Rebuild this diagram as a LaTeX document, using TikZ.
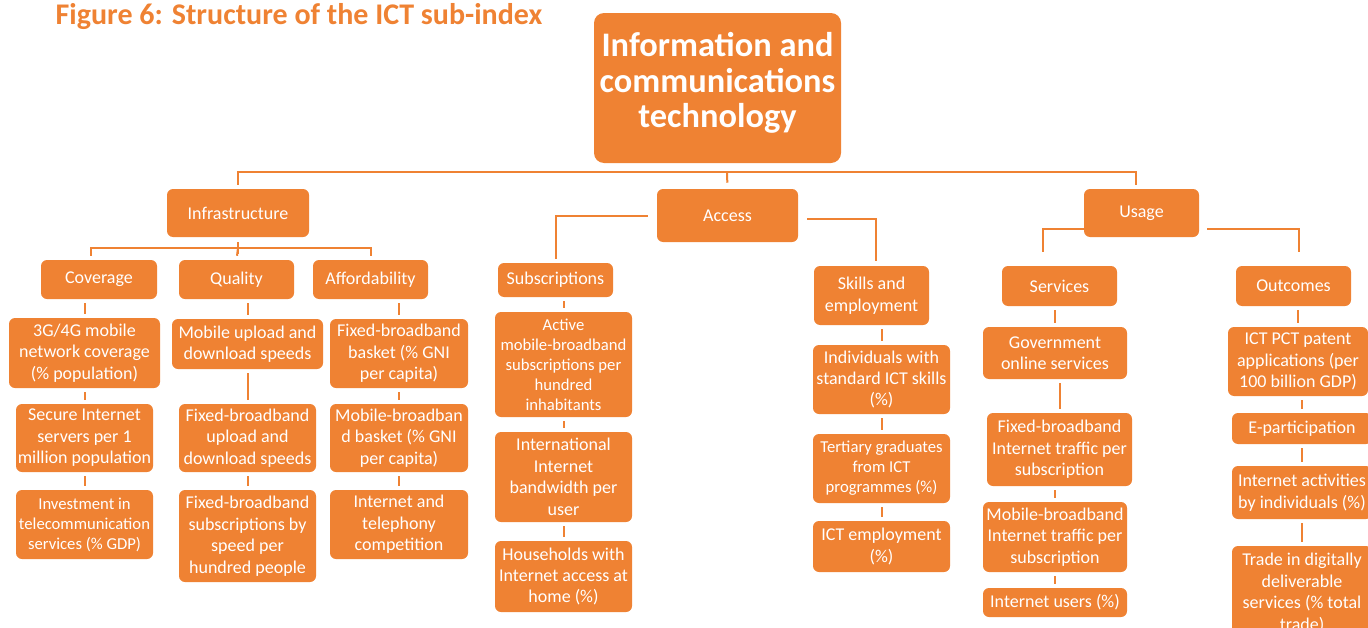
\documentclass[tikz,border=0pt]{standalone}
\usepackage{fontspec}
\setmainfont{Carlito}
\definecolor{ictorange}{HTML}{EF8233}
\newlength{\px}\setlength{\px}{0.75pt}

\begin{document}
\begin{tikzpicture}[x=0.75pt, y=-0.75pt,
    box/.style={fill=ictorange, text=white, rounded corners=4.5pt, align=center,
        inner sep=1pt, font=\fontsize{13.5}{16.1}\selectfont},
    small/.style={font=\fontsize{12.5}{15}\selectfont},
    wh/.style 2 args={minimum width=#1\px, minimum height=#2\px},
    link/.style={draw=ictorange, line width=1.5pt},
    tick/.style={link, shorten <=4\px, shorten >=4\px}]
    \useasboundingbox (0,0) rectangle (1368,628);

    % Title and root
    \node[anchor=base west, text=ictorange, font=\fontsize{22.5}{27}\bfseries\selectfont]
        (title) at (51,25) {Figure 6: Structure of the ICT sub-index};
    \node[box, wh={247}{150}, rounded corners=7.5pt, text depth=16\px,
        font=\fontsize{25.8}{26.6}\bfseries\selectfont]
        (ict) at (717.5,88) {Information and\\communications\\technology};

    % Pillars
    \node[box, wh={142}{48}] (infra) at (238,213)   {Infrastructure};
    \node[box, wh={141}{53}] (acc)   at (727.5,215.5) {Access};
    \node[box, wh={115}{48}] (use)   at (1141.5,213) {Usage};

    % Sub-pillars
    \node[box, wh={116}{39}] (cov)  at (99,279.5)    {Coverage};
    \node[box, wh={115}{39}] (qual) at (236.5,279.5) {Quality};
    \node[box, wh={115}{39}] (aff)  at (370.5,279.5) {Affordability};
    \node[box, wh={115}{34}] (sub)  at (555.5,280)   {Subscriptions};
    \node[box, wh={115}{59}] (skl)  at (871.5,295.5) {Skills and\\employment};
    \node[box, wh={115}{40}] (svc)  at (1059.5,286)  {Services};
    \node[box, wh={115}{40}] (out)  at (1293.5,286)  {Outcomes};

    % Infrastructure indicators
    \node[box, wh={151}{70}] (c1) at (84.5,353) {3G/4G mobile\\network coverage\\(\% population)};
    \node[box, wh={137}{68}] (c2) at (84.5,438) {Secure Internet\\servers per 1\\million population};
    \node[box, small, wh={137}{69}] (c3) at (84.5,524.5) {Investment in\\telecommunication\\services (\% GDP)};
    \node[box, wh={151}{50}] (q1) at (247.5,344) {Mobile upload and\\download speeds};
    \node[box, wh={137}{68}] (q2) at (247.5,438) {Fixed-broadband\\upload and\\download speeds};
    \node[box, wh={137}{92}] (q3) at (247.5,536) {Fixed-broadband\\subscriptions by\\speed per\\hundred people};
    \node[box, wh={138}{69}] (a1) at (399,353.5) {Fixed-broadband\\basket (\% GNI\\per capita)};
    \node[box, wh={138}{68}] (a2) at (399,438) {Mobile-broadban\\d basket (\% GNI\\per capita)};
    \node[box, wh={138}{69}] (a3) at (399,524.5) {Internet and\\telephony\\competition};

    % Access indicators
    \node[box, small, wh={137}{105}] (s1) at (563.5,364.5) {Active\\mobile-broadband\\subscriptions per\\hundred\\inhabitants};
    \node[box, wh={137}{90}] (s2) at (563.5,477) {International\\Internet\\bandwidth per\\user};
    \node[box, wh={137}{71}] (s3) at (563.5,576.5) {Households with\\Internet access at\\home (\%)};
    \node[box, wh={137}{69}] (k1) at (881.5,379.5) {Individuals with\\standard ICT skills\\(\%)};
    \node[box, small, wh={137}{69}] (k2) at (881.5,468.5) {Tertiary graduates\\from ICT\\programmes (\%)};
    \node[box, wh={137}{51}] (k3) at (881.5,546.5) {ICT employment\\(\%)};

    % Usage indicators
    \node[box, wh={144}{52}] (v1) at (1055,353)    {Government\\online services};
    \node[box, wh={145}{73}] (v2) at (1059.5,449.5) {Fixed-broadband\\Internet traffic per\\subscription};
    \node[box, wh={144}{70}] (v3) at (1055,537)    {Mobile-broadband\\Internet traffic per\\subscription};
    \node[box, wh={144}{29}] (v4) at (1055,602.5)  {Internet users (\%)};
    \node[box, wh={140}{69}] (o1) at (1298,361.5)  {ICT PCT patent\\applications (per\\100 billion GDP)};
    \node[box, wh={140}{31}] (o2) at (1302,428.5)  {E-participation};
    \node[box, wh={140}{53}] (o3) at (1302,492.5)  {Internet activities\\by individuals (\%)};
    \node[box, wh={140}{94}] (o4) at (1302,593)    {Trade in digitally\\deliverable\\services (\% total\\trade)};

    % Tree connectors
    \coordinate (topbar) at (727,172);
    \coordinate (infbar) at (238,248);
    \draw[link, shorten <=4\px, shorten >=4\px] (infra.north) |- (topbar) -| ([xshift=-6\px]use.north);
    \draw[link, shorten >=6\px] (topbar) -- (acc.north);
    \draw[link, shorten <=5\px] (infra.south) -- ++(0,17);
    \draw[link, shorten <=4\px, shorten >=4\px] ([xshift=-8\px]cov.north) |- (infbar) -| (aff.north);
    \draw[link, shorten >=4\px] (infbar) -- (qual.north);
    \draw[link, shorten >=4\px] ([xshift=-9\px]acc.west) -| (sub.north);
    \draw[link, shorten >=5\px] ([shift={(9\px,-3\px)}]acc.east) -| ([xshift=4\px]skl.north);
    \draw[link, shorten >=14\px] ([yshift=-16\px]use.west) -| ([xshift=-17\px]svc.north);
    \draw[link, shorten >=14\px] ([shift={(8\px,-16\px)}]use.east) -| ([xshift=5\px]out.north);

    % Column ticks
    \foreach \a/\b in {cov/c1, c1/c2, c2/c3, qual/q1, q1/q2, q2/q3, aff/a1, a1/a2, a2/a3,
                      sub/s1, s1/s2, s2/s3, skl/k1, k1/k2, k2/k3,
                      svc/v1, v1/v2, v2/v3, v3/v4, out/o1, o1/o2, o2/o3, o3/o4}
        \draw[tick] (\b.north |- \a.south) -- (\b.north);
\end{tikzpicture}
\end{document}
